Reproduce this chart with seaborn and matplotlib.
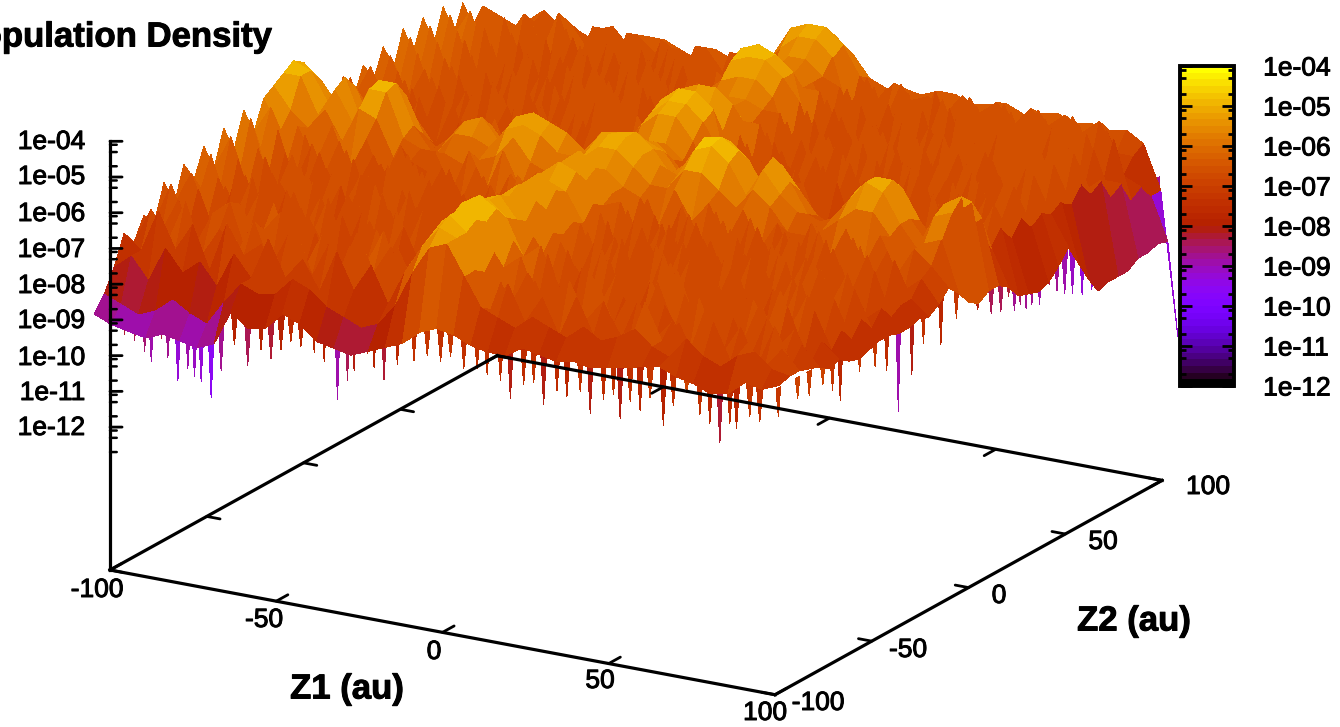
import numpy as np
import matplotlib
matplotlib.use("Agg")
import matplotlib.pyplot as plt
import matplotlib.patheffects as pe
from matplotlib.cm import ScalarMappable
from matplotlib.colors import Normalize
from mpl_toolkits.mplot3d import proj3d
from mpl_toolkits.mplot3d.art3d import Poly3DCollection
import seaborn as sns

# log10(density), in tenths and negated; rows run along Z2, columns along Z1
density_rows = [
[88,90,91,92,90,91,92,90,80,84,83,78,80,84,85,86,84,82,80,76,74,75,77,78,78,75,76,77,76,77,76,75,74,73,75,76,78,77,73,74,72],
[84,86,88,86,82,85,87,80,74,76,75,70,72,76,78,80,78,72,62,54,52,60,68,70,72,68,70,72,68,71,69,66,70,72,66,70,72,68,66,70,71],
[78,74,80,70,76,72,78,68,74,62,72,66,74,62,72,64,74,64,56,50,52,60,70,62,72,64,74,62,72,66,74,60,70,64,74,62,72,66,72,66,71],
[70,74,62,72,64,76,62,70,66,74,60,72,62,74,64,72,60,70,54,48,52,62,64,74,62,72,60,70,64,74,62,72,66,74,60,72,64,74,62,72,72],
[74,64,72,60,74,66,72,62,74,64,72,62,72,60,70,62,74,62,52,48,50,58,72,62,70,64,74,60,72,62,74,64,72,60,72,64,74,62,72,68,73],
[68,72,62,74,64,60,74,66,60,72,64,76,66,70,60,74,64,60,52,49,52,64,60,72,64,74,60,70,66,74,60,72,62,74,64,72,60,72,66,74,75],
[72,60,72,66,74,62,70,60,74,62,70,60,72,62,74,66,72,58,50,47,50,58,70,60,74,62,72,62,74,62,70,64,74,60,72,62,70,62,74,70,74],
[62,70,62,74,60,72,64,74,62,72,64,74,62,72,62,72,60,64,54,50,54,64,60,72,64,70,60,74,62,72,60,72,62,72,64,74,60,72,64,74,76],
[70,60,72,62,72,62,74,60,72,60,74,62,74,60,70,64,72,58,52,50,56,60,70,62,74,60,72,62,72,60,74,62,74,60,74,62,72,62,72,70,77],
[60,66,62,72,60,76,62,72,62,74,60,72,62,72,60,74,62,66,56,52,58,66,62,72,60,72,64,74,60,72,62,72,60,74,60,72,60,74,64,74,76],
[66,58,72,62,74,62,70,60,74,62,72,60,74,62,74,60,72,60,54,50,54,62,70,60,72,60,74,60,72,62,74,60,72,62,72,62,74,62,72,70,75],
[58,68,60,74,62,72,60,72,62,76,60,72,60,74,62,72,62,68,58,54,58,64,60,72,62,74,62,72,60,74,62,72,60,74,60,74,60,72,64,74,75],
[66,56,70,60,72,60,74,60,72,60,72,62,74,60,72,60,74,60,54,50,54,62,72,60,74,60,72,62,74,60,72,62,74,60,72,60,72,62,74,70,76],
[56,66,60,72,60,74,62,72,62,74,60,72,60,74,62,74,60,66,58,54,56,64,60,74,60,72,60,74,62,72,60,74,60,72,62,74,62,74,62,74,76],
[64,54,70,62,74,60,72,60,74,60,72,60,74,62,72,60,70,60,54,50,52,60,72,60,72,62,74,60,72,60,74,62,72,60,74,60,72,60,72,72,75],
[54,64,58,72,60,72,60,74,62,72,60,74,60,72,60,72,58,64,58,54,56,62,60,72,62,74,60,72,60,74,60,72,60,74,60,74,60,74,62,72,76],
[62,54,68,60,72,60,72,62,72,60,72,62,72,60,70,60,68,60,54,50,54,60,70,60,72,60,72,60,74,60,72,62,74,60,72,60,72,62,72,68,74],
[54,62,60,70,58,70,60,72,60,74,60,70,58,68,56,66,60,62,58,54,56,60,62,70,58,66,60,70,60,70,62,72,60,70,60,70,60,70,62,66,71],
[52,58,62,56,64,54,56,66,66,68,62,64,62,60,54,60,62,60,56,52,52,56,60,60,54,54,58,62,56,60,66,66,64,60,56,56,62,68,62,60,74],
[50,50,60,52,60,50,50,62,64,64,58,58,60,54,52,54,58,58,54,50,50,54,56,58,50,48,52,60,52,58,62,64,62,56,50,52,60,66,56,54,78],
[48,50,58,50,62,49,49,60,66,62,56,54,60,52,50,52,54,58,52,51,50,54,60,56,48,47,50,60,50,56,64,66,62,54,50,50,60,66,54,51,80],
[50,54,60,54,64,52,54,64,68,66,60,58,64,58,54,56,60,62,56,54,54,56,62,62,52,50,54,62,54,60,66,68,64,58,52,54,62,68,58,54,78],
[56,62,66,60,68,58,62,68,72,66,66,62,70,62,60,62,66,66,60,56,56,60,66,68,58,56,62,66,60,66,70,72,68,64,58,62,68,72,64,60,78],
[62,70,62,72,60,72,64,74,62,72,60,72,62,72,60,72,60,70,62,58,58,62,66,74,62,70,60,72,62,74,60,74,62,72,62,72,60,72,62,70,80],
[70,58,72,60,74,60,72,60,74,60,74,60,74,60,74,60,72,62,56,52,52,58,70,60,72,60,74,60,74,60,74,60,74,60,74,60,74,60,72,66,84],
[60,68,60,72,60,74,62,72,60,74,60,72,62,74,60,74,62,66,54,50,50,54,62,72,60,74,62,74,60,74,62,72,60,74,60,74,60,72,62,70,85],
[68,58,72,60,74,60,72,60,72,62,74,60,72,60,72,60,70,60,52,48,48,52,72,60,74,60,72,60,74,60,72,62,74,60,74,60,72,62,72,66,86],
[60,66,60,72,60,72,62,74,60,72,62,74,60,74,60,72,60,68,58,56,56,60,60,72,60,74,60,74,60,72,60,74,60,72,62,74,60,74,60,70,85],
[66,58,70,60,74,60,74,60,72,60,74,60,74,60,72,60,70,60,52,50,50,54,72,60,74,60,74,60,74,60,74,60,72,60,72,60,72,60,72,68,82],
[58,66,58,72,60,72,60,74,60,74,60,72,60,72,60,74,62,66,58,56,56,60,60,72,60,72,60,72,60,74,60,74,62,74,60,74,62,74,60,70,78],
[66,56,70,60,72,60,74,60,72,60,74,60,74,60,74,60,72,62,60,58,58,62,72,60,74,60,74,60,74,60,72,60,72,60,74,60,72,60,72,68,84],
[56,66,58,72,60,74,60,72,62,74,60,72,60,72,60,74,60,68,60,58,58,60,60,72,60,74,62,72,60,72,60,74,60,74,60,74,60,72,60,70,90],
[64,56,70,58,72,60,72,60,74,60,72,60,74,60,74,60,72,60,56,54,54,58,72,60,74,60,72,60,74,60,74,60,72,60,72,60,72,60,72,66,95],
[56,66,58,72,60,74,60,74,60,74,60,74,60,72,60,72,60,64,52,50,50,54,60,74,60,74,60,74,60,72,60,72,60,74,60,74,60,74,60,70,94],
[66,56,70,58,72,60,74,60,72,60,74,60,72,60,74,60,72,58,50,48,50,54,72,60,72,60,74,60,72,62,74,60,74,60,72,60,72,60,72,68,94],
[56,66,58,72,60,72,60,74,60,74,60,74,60,74,60,74,60,64,58,56,56,60,60,74,60,74,60,74,60,74,60,72,60,72,60,74,60,74,62,74,94],
[66,58,70,58,72,60,74,60,74,60,72,60,74,60,72,60,72,62,58,58,58,60,72,60,72,60,72,60,72,60,74,60,74,60,74,60,72,60,72,72,92],
[58,70,60,72,60,72,60,72,60,72,60,74,60,72,60,72,60,70,62,56,56,60,62,72,60,74,60,74,60,72,60,72,60,72,60,72,60,74,62,78,92],
[66,62,68,60,70,58,72,60,72,60,74,60,72,60,74,60,72,62,56,52,52,56,72,60,72,60,72,60,74,60,74,60,74,60,74,60,74,62,74,76,91],
[62,64,66,64,70,62,68,62,68,62,66,64,68,62,68,62,68,60,52,50,50,54,62,68,62,66,64,68,62,66,62,68,62,66,62,66,62,70,70,80,92],
[68,70,66,62,66,66,68,63,68,64,64,66,68,64,66,66,66,64,60,56,54,58,64,66,65,66,64,64,66,65,64,66,65,64,66,65,66,65,68,80,120],
]
z_span = [-103, 103]
front_spike_z1 = [-95,-92,-89,-87,-84,-82,-79,-76,-74,-72,-69,-66,-62,-58,-54,-51,-48,-45,-42,-38,-35,-31,-28,-26,-22,-20,-17,-13,-8,-4,0,3,7,11,14,18,21,25,28,31,35,38,42,45,49,52,54,57,60,63,67,70,74,78,81,84,87,89,93,96]
front_spike_tip = [-9.3,-9.4,-9.65,-9.9,-9.2,-9.7,-10.3,-9.9,-10.1,-10.2,-10.6,-9.8,-9.0,-9.5,-9.0,-9.2,-8.9,-8.6,-8.7,-8.8,-9.0,-10.0,-9.4,-9.1,-8.55,-8.9,-9.2,-8.7,-8.5,-8.3,-8.4,-8.2,-8.45,-8.4,-8.5,-8.6,-9.05,-8.6,-8.5,-9.05,-8.6,-8.7,-8.5,-9.05,-8.6,-8.4,-9.05,-8.5,-8.7,-8.3,-9.0,-8.4,-7.95,-8.5,-8.7,-9.2,-8.6,-8.7,-8.3,-8.4]
right_spike_z2 = [-100,-90,-84,-77,-72,-68,-58,-50,-44,-38,-31,-25,-16,-8,3,10,15,19,22,25,28,31,35,40,44,48,52,57,62,66,70,75,80,85,90,95]
right_spike_tip = [-8.2,-8.0,-8.1,-8.0,-8.3,-8.7,-8.2,-8.3,-8.6,-9.9,-9.1,-8.4,-8.7,-8.2,-8.3,-8.6,-8.7,-8.4,-8.9,-8.8,-9.0,-9.0,-9.1,-8.7,-9.0,-9.2,-9.3,-9.5,-9.5,-9.4,-9.3,-9.5,-9.3,-9.2,-9.1,-9.0]
z_levels = [-4,-5,-6,-7,-8,-9,-10,-11,-12]
z_labels = ["1e-04","1e-05","1e-06","1e-07","1e-08","1e-09","1e-10","1e-11","1e-12"]
plane_ticks = [-100,-50,0,50,100]
z_label_rows = [142,177,214,250,286,321,358,393,428]
z1_label_xy = [(97,590),(264,620),(434,652),(600,681),(765,713)]
z2_label_xy = [(818,703),(908,650),(999,596),(1103,542),(1208,487)]

W, H = 1340, 727
sns.set_theme(style="white")
plt.rcParams["font.family"] = ["Liberation Sans", "DejaVu Sans"]
cmap = sns.color_palette("gnuplot", as_cmap=True).resampled(48)
norm = Normalize(-12, -4)

density = -np.array(density_rows, dtype=float) / 10
nrow, ncol = density.shape
Z1, Z2 = np.meshgrid(np.linspace(*z_span, ncol), np.linspace(*z_span, nrow))

fig = plt.figure(figsize=(W / 100, H / 100), dpi=100, facecolor="white")
ax = fig.add_axes([0, 0, 1, 1], projection="3d", proj_type="ortho", computed_zorder=False)
ax.view_init(elev=18.8, azim=-59.8)
ax.set_box_aspect((768, 768, 452))
ax.set_axis_off()
ax.patch.set_alpha(0)

polys, cols = [], []
for z, tip in zip(front_spike_z1, front_spike_tip):
    hw = 1.6 if z < -40 else 1.0
    polys.append([(z - hw, -101, -7.4), (z + hw, -101, -7.4), (z, -101, tip)])
    cols.append(cmap(norm(tip + 1.0)))
for z, tip in zip(right_spike_z2, right_spike_tip):
    hw = 2.2 if z > 0 else 1.2
    polys.append([(101, z - hw, -7.4), (101, z + hw, -7.4), (101, z, tip)])
    cols.append(cmap(norm(tip + (0.2 if z > 0 else 1.0))))
spikes = Poly3DCollection(polys, facecolors=cols, edgecolors="none", linewidths=0, zorder=1)
spikes.set_antialiased(False)
ax.add_collection3d(spikes)

ax.plot_surface(Z1, Z2, density, cmap=cmap, vmin=-12, vmax=-4, rstride=1, cstride=1,
                linewidth=0, antialiased=False, shade=False, zorder=2)

line = dict(color="black", lw=2.3, zorder=5, solid_capstyle="projecting")
floor = -16
for xs, ys in [((-100, 100), (-100, -100)), ((100, 100), (-100, 100)),
               ((100, -100), (100, 100)), ((-100, -100), (100, -100))]:
    ax.plot(xs, ys, [floor, floor], **line)
ax.plot([-100, -100], [-100, -100], [floor, -4], **line)
tick = dict(color="black", lw=2.0, zorder=5)
for t in plane_ticks:
    ax.plot([t, t], [-100, -94], [floor, floor], **tick)
    ax.plot([t, t], [100, 94], [floor, floor], **tick)
    ax.plot([-100, -96], [t, t], [floor, floor], **tick)
    ax.plot([100, 96], [t, t], [floor, floor], **tick)
for lev in z_levels:
    ax.plot([-100, -97.3], [-100, -98.4], [lev, lev], **tick)
    for m in (0.301, 0.699, 0.903):
        v = lev - 1 + m
        if v >= -13:
            ax.plot([-100, -98.5], [-100, -99.1], [v, v], color="black", lw=1.8, zorder=5)

ax.set_xlim(-100, 100, view_margin=0)
ax.set_ylim(-100, 100, view_margin=0)
ax.set_zlim(-16, -4, view_margin=0)


def to_px(x, y, z):
    ax.apply_aspect()
    a, b, _ = proj3d.proj_transform(x, y, z, ax.get_proj())
    return ax.transData.transform((a, b))


S = 800.0
ax.set_position([0, 0, S / W, S / H])
p0 = to_px(-100, -100, -16)
p1 = to_px(100, -100, -16)
S *= 665.0 / (p1[0] - p0[0])
ax.set_position([0, 0, S / W, S / H])
p0 = to_px(-100, -100, -16)
ax.set_position([(110 - p0[0]) / W, ((H - 570) - p0[1]) / H, S / W, S / H])

heavy = [pe.withStroke(linewidth=0.7, foreground="black")]


def label(x, y, s, size=19, ha="center", weight="normal"):
    return fig.text(x / W, 1 - y / H, s, ha=ha, va="center", fontsize=size, color="black",
                    fontweight=weight, path_effects=heavy)


for y, s in zip(z_label_rows, z_labels):
    label(85, y, s, ha="right")
for (x, y), t in zip(z1_label_xy, plane_ticks):
    label(x, y, str(t))
for (x, y), t in zip(z2_label_xy, plane_ticks):
    label(x, y, str(t))
label(347, 689, "Z1 (au)", size=25, weight="bold")
label(1134, 621, "Z2 (au)", size=25, weight="bold")
label(272, 37, "Population Density", size=25, ha="right", weight="bold")

cax = fig.add_axes([1180 / W, 1 - 386 / H, 54 / W, 320 / H])
cb = fig.colorbar(ScalarMappable(norm=norm, cmap=cmap), cax=cax)
cb.set_ticks(z_levels, labels=z_labels)
cb.outline.set_linewidth(2.8)
cb.outline.set_edgecolor("black")
minors = [lev - 1 + m for lev in z_levels[:-1] for m in (0.301, 0.699, 0.903)]
cax.set_yticks(minors, minor=True)
cax.set_axisbelow(False)
cax.tick_params(axis="y", which="major", direction="in", left=True, right=True, length=8.5,
                width=2, color="black", labelsize=19, pad=21, labelcolor="black")
cax.tick_params(axis="y", which="minor", direction="in", left=True, right=True, length=4.5,
                width=2, color="black")
for t in cax.get_yticklabels():
    t.set_path_effects(heavy)

fig.savefig("out.png", dpi=100)
